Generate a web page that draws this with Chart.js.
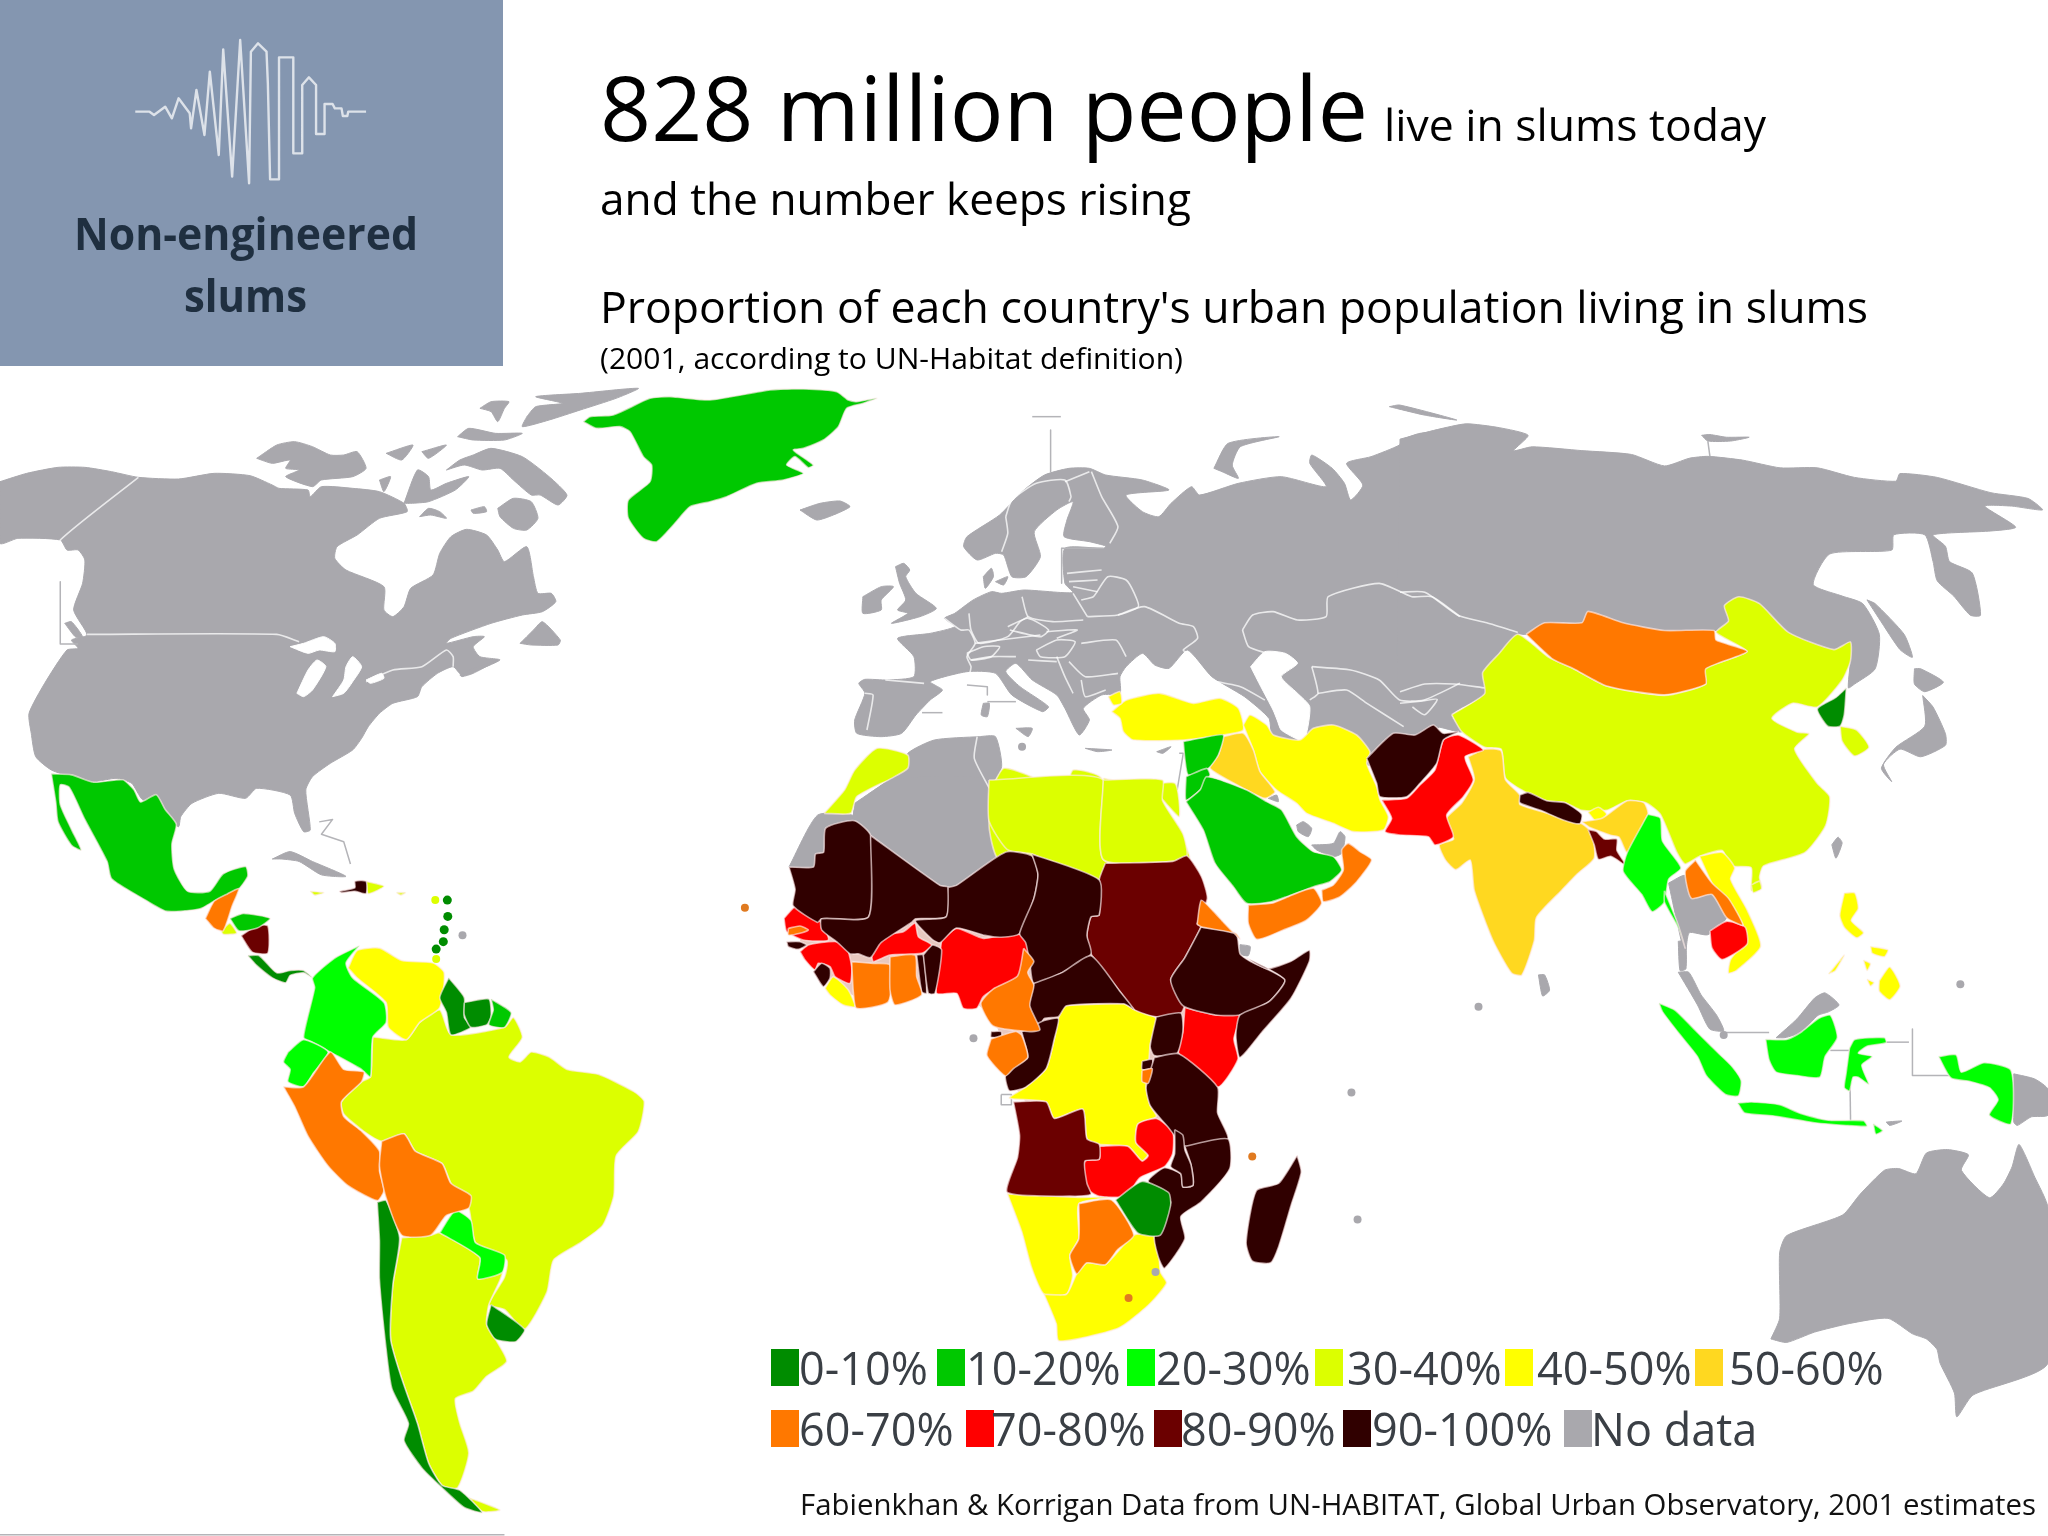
<!DOCTYPE html>
<html>
<head>
<meta charset="utf-8">
<title>Slums map</title>
<script src="https://cdn.jsdelivr.net/npm/chart.js@4"></script>
<style>
  html, body { margin: 0; padding: 0; background: #fff; }
  #page { position: relative; width: 2048px; height: 1536px; overflow: hidden; font-family: "Open Sans", sans-serif; }
  #panel { position: absolute; left: 0; top: 0; width: 503px; height: 366px; background: #8496b0; }
  #map { position: absolute; left: 0; top: 0; }
  .t { position: absolute; white-space: nowrap; transform-origin: 0 0; }
  .sw { position: absolute; width: 28px; height: 37px; }
</style>
</head>
<body>
<div id="page">
  <div id="panel"></div>
  <canvas id="map" width="2048" height="1536"></canvas>
</div>
<script>
const sheet = (x0, y0, sx, sy) => flat => {
  const pts = [];
  for (let i = 0; i < flat.length; i += 2) pts.push({ x: x0 + flat[i] / sx, y: y0 + flat[i + 1] / sy });
  return pts;
};
const na = sheet(0, 380, 2.24, 3);
const sa = sheet(0, 760, 2.24, 2.02);
const af = sheet(740, 780, 2.45, 2.703);
const eu = sheet(820, 400, 2.45, 3);
const as = sheet(1400, 420, 2.42, 2.613);
const oc = sheet(1500, 850, 2.861, 2.904);
const gl = sheet(570, 385, 3, 3);
const me = sheet(1100, 700, 3, 3);
const wa = sheet(780, 820, 3, 3);
const tr = sheet(850, 540, 3, 3);
const lg = sheet(0, 0, 2.24, 3);

const bandLabels = ['0-10%', '10-20%', '20-30%', '30-40%', '40-50%', '50-60%', '60-70%', '70-80%', '80-90%', '90-100%', 'No data'];
const bandColors = ['#008c00', '#00c800', '#00ff00', '#dcff00', '#ffff00', '#ffd820', '#ff7800', '#ff0000', '#6b0000', '#300000', '#a9a8ad'];

// no data land
const noData = [
  na([0,305,60,280,130,262,190,262,250,275,310,292,400,297,480,280,560,287,610,315,625,325,690,330,695,350,720,320,790,325,850,335,905,370,912,395,850,415,800,465,755,500,750,535,775,570,860,620,860,690,880,710,905,680,920,625,970,585,985,520,1010,470,1045,448,1090,465,1115,510,1130,545,1180,500,1195,590,1205,640,1235,640,1245,665,1215,695,1170,705,1100,730,1010,775,1000,790,1060,770,1085,770,1060,800,1075,830,1120,840,1035,885,1015,860,980,880,945,920,935,950,880,970,850,1000,825,1040,810,1075,790,1110,740,1150,700,1190,685,1230,695,1350,680,1355,660,1300,650,1245,575,1225,550,1255,490,1240,430,1270,405,1310,400,1340,375,1310,350,1250,320,1260,295,1210,260,1195,210,1205,160,1190,115,1170,80,1130,70,1060,65,1000,100,910,150,810,175,805,160,780,195,765,165,690,185,610,190,540,175,510,150,510,135,480,40,475,0,490]),
  na([575,235,620,195,660,185,700,200,740,225,770,225,800,215,820,265,790,290,720,300,700,320,640,290,670,270,640,265,650,240,610,250]),
  na([865,220,925,195,900,240]),
  na([945,215,1000,195,960,235]),
  na([850,300,875,290,860,335]),
  na([905,370,935,270,960,290,965,330,1000,310,1050,290,1020,330,960,365,920,370]),
  na([1000,270,1030,240,1060,225,1100,205,1170,230,1230,290,1270,345,1250,375,1210,345,1190,345,1150,300,1120,265,1080,270,1040,255]),
  na([1115,385,1150,355,1190,365,1205,415,1180,450,1150,445,1120,410]),
  na([940,410,960,385,985,395,1000,415,965,405]),
  na([1055,390,1085,380,1090,395,1060,400]),
  na([1180,110,1200,80,1260,70,1200,50,1300,40,1430,25,1380,55,1300,90,1230,120,1170,140]),
  na([1075,85,1100,65,1140,65,1130,85,1115,125,1100,95]),
  na([1025,170,1050,145,1110,160,1170,160,1130,180,1060,180]),
  na([1165,790,1195,750,1215,725,1255,780,1250,795,1190,795]),
  na([1030,885,1060,865,1115,840,1060,880,1035,890]),
  na([145,730,160,725,185,770,170,772]),
  gl([690,375,750,355,810,348,840,365,790,390,740,405]),
  sa([610,200,650,185,700,205,775,235,720,232,670,205,630,200]),
  af([120,235,190,95,275,95,275,125,210,130,205,195,185,200,180,235]),
  eu([85,1210,175,1135,215,1105,215,1060,280,1020,390,1010,430,1010,445,1100,415,1170,415,1300,450,1380,80,1380]),
  af([280,80,370,0,610,0,610,110,650,185,530,285,490,285,320,150,275,125]),
  af([1225,445,1250,450,1245,475,1225,470]),
  me([635,435,700,430,720,395,735,410,725,460,700,470,650,450]),
  me([590,375,610,365,635,385,625,410,595,395]),
  me([505,295,530,285,535,305]),
  eu([1568,90,1470,100,1425,120,1420,135,1350,170,1290,190,1330,255,1300,300,1285,250,1255,205,1205,165,1200,190,1240,260,1130,230,1025,250,930,285,910,260,860,310,830,350,790,335,750,285,855,270,790,240,700,225,660,205,610,205,550,225,495,275,440,345,360,410,352,440,385,480,430,460,450,465,470,530,505,530,540,470,525,395,580,330,620,305,605,360,598,410,660,425,700,438,695,445,600,445,600,550,620,578,500,570,445,580,420,575,375,600,330,640,305,655,330,680,270,700,190,715,230,770,230,830,165,840,110,838,95,850,110,880,85,960,90,1000,150,1010,200,1000,235,945,270,900,300,870,270,845,360,815,430,820,470,885,545,935,560,920,490,860,455,815,480,790,520,840,580,885,600,925,635,1005,660,960,645,925,690,885,735,880,735,830,750,800,790,760,820,795,855,805,900,750,960,830,1040,890,1100,955,1110,1010,1380,1100,1500,1000,1568,900]),
  as([0,50,90,25,160,10,240,20,310,40,275,80,320,70,440,80,560,90,640,120,700,100,745,95,830,105,920,125,1010,125,1100,150,1200,160,1210,140,1300,150,1430,190,1520,205,1555,235,1480,225,1415,225,1490,280,1430,290,1290,300,1320,330,1330,370,1385,400,1405,510,1380,510,1340,460,1300,420,1290,370,1270,300,1195,300,1190,340,1040,350,1000,430,1070,460,1120,480,1160,560,1150,650,1100,690,1085,700,1090,630,1090,580,1050,600,940,555,870,480,820,462,785,485,795,525,765,550,640,550,540,530,455,500,440,530,350,530,305,560,285,560,240,610,200,660,205,715,125,770,150,815,80,800,0,820]),
  as([1130,470,1150,480,1220,560,1240,620,1210,600,1160,520]),
  as([1245,650,1260,650,1315,685,1270,710,1245,690]),
  as([1265,720,1290,750,1320,820,1320,850,1260,880,1210,860,1170,900,1190,945,1165,910,1200,855,1270,800]),
  as([730,40,750,38,790,45,845,45,800,55,745,55]),
  eu([185,500,205,490,220,510,210,530,235,580,285,625,245,650,175,670,215,640,190,630,210,600,195,550]),
  eu([105,590,150,560,180,560,150,600,150,630,105,640]),
  eu([400,530,420,505,425,530,405,565]),
  eu([430,545,460,530,450,555]),
  eu([965,205,1000,130,1125,110,1030,140,1010,195,1025,235,985,215]),
  eu([1395,20,1420,15,1560,60,1480,45]),
  eu([400,910,415,910,410,950,395,945]),
  eu([480,985,520,985,510,1010]),
  eu([650,1045,715,1050,680,1055]),
  eu([825,1055,860,1040,840,1060]),
  as([650,1210,690,1190,710,1250,755,1240,790,1300,745,1345,700,1340,690,1395,670,1310]),
  oc([510,265,530,265,532,345,515,350]),
  oc([510,355,540,355,575,420,620,480,640,525,600,520,565,450]),
  as([1045,1110,1060,1090,1070,1105,1055,1145]),
  as([335,1450,350,1450,362,1490,345,1505]),
  oc([790,545,850,490,900,430,930,415,970,450,940,470,910,480,860,530,815,545]),
  oc([1470,650,1530,665,1568,695,1568,770,1520,775,1480,800,1470,790]),
  oc([1105,790,1150,787,1115,800]),
  oc([775,1420,800,1360,800,1170,820,1120,980,1060,1030,1000,1100,930,1140,925,1190,940,1220,880,1280,870,1340,885,1320,930,1400,1010,1440,970,1465,920,1485,855,1530,950,1568,1040,1568,1490,1353,1583,1307,1646,1300,1577,1259,1490,1250,1450,1220,1420,1180,1405,1110,1360,1000,1375,900,1400,820,1430])
];

// lakes and inland seas cut out of the grey
const water = [
  na([650,800,680,790,725,770,750,790,750,815,715,810,690,820]),
  na([665,940,690,870,710,840,730,860,700,930,680,950]),
  na([745,950,770,900,775,860,790,830,810,860,790,905,770,940]),
  na([820,900,855,880,860,895,830,910]),
  eu([1055,800,1090,755,1140,760,1170,790,1130,830,1170,880,1200,920,1190,1010,1175,1020,1130,990,1120,960,1110,930,1080,860])
];

// pale ground under africa so slivers between traced countries read as borders
const africaGround = af([150,300,330,170,500,300,880,300,1100,300,1100,600,1150,800,1050,950,850,1100,700,1100,700,870,660,810,640,700,620,640,560,590,480,550,300,590,220,540,150,440]);

const band0 = [
  sa([1005,440,1040,480,1040,520,1055,540,1010,555,1000,510,985,480]),
  sa([1040,490,1095,483,1100,520,1090,535,1055,540,1040,515]),
  sa([1100,1100,1175,1150,1155,1175,1110,1170,1090,1140]),
  sa([845,893,865,890,895,965,880,1060,875,1170,900,1250,935,1340,960,1420,990,1465,1030,1475,1080,1520,1040,1510,990,1470,945,1430,905,1375,915,1340,878,1270,865,1190,850,1050,850,970]),
  sa([555,395,580,395,620,430,650,425,680,425,700,440,680,430,650,435,640,450,610,440,575,415]),
  af([920,1135,985,1085,1050,1115,1055,1150,1030,1230,975,1225]),
  as([1080,700,1075,770,1065,800,1035,800,1010,755,1055,725])
];
const band1 = [
  gl([40,110,60,95,130,90,240,40,300,35,420,45,600,15,700,12,800,20,835,45,860,50,920,40,880,55,830,70,805,125,760,165,700,190,670,195,730,240,715,248,675,215,650,240,700,265,640,285,560,295,470,335,420,350,360,365,310,420,260,470,220,460,175,400,175,345,240,290,245,240,220,215,180,140,150,125,80,130]),
  sa([115,28,160,30,210,45,275,40,300,60,315,85,350,70,370,100,395,130,385,170,390,220,420,265,470,265,500,230,550,215,555,235,530,265,480,285,450,300,410,305,370,305,320,280,250,240,240,205,190,120,155,55,135,50,135,90,160,140,182,182,160,172,130,125,125,85]),
  sa([515,320,545,310,605,320,575,340,535,345]),
  sa([1100,483,1145,510,1130,540,1095,535,1105,505]),
  me([250,125,300,115,370,105,355,165,325,205,265,225,255,180]),
  me([258,230,320,205,330,225,300,270,258,300]),
  me([258,305,300,270,320,230,440,270,500,305,545,330,590,410,640,455,700,470,725,510,690,545,640,560,560,590,515,605,440,610,400,560,345,490,310,390])
];
const band2 = [
  sa([805,375,775,410,790,440,860,490,865,530,835,560,830,640,810,625,740,590,700,570,680,560,705,460,700,440,750,400]),
  sa([645,590,680,565,735,590,700,635,680,660,645,650,650,625,635,610]),
  sa([985,955,1020,910,1055,930,1065,975,1130,1000,1125,1035,1070,1048,1075,1005]),
  as([600,1030,630,1040,635,1100,680,1170,650,1200,640,1260,610,1285,585,1240,540,1180,550,1130]),
  as([640,1230,670,1310,690,1380,675,1330,640,1260]),
  oc([455,445,500,465,565,530,625,590,665,630,690,670,682,714,645,710,590,655,565,600,510,530,465,470]),
  oc([680,735,720,732,800,740,860,765,940,785,1040,786,1050,802,990,800,900,792,780,772,700,764]),
  oc([1068,795,1095,815,1075,825]),
  oc([760,550,820,550,860,530,910,490,945,480,965,545,930,600,915,660,850,655,790,645,770,610]),
  oc([1000,575,1015,550,1100,545,1105,560,1050,570,1025,590,1065,600,1035,625,1055,680,1025,660,1010,660,1000,700,985,690,990,650]),
  oc([1255,600,1305,595,1320,645,1385,618,1462,640,1462,795,1400,770,1425,725,1400,690,1345,672,1290,662])
];
const band3 = [
  eu([10,1240,60,1170,85,1110,140,1045,215,1065,215,1105,175,1135,90,1190,75,1240]),
  eu([415,1180,450,1105,520,1130,600,1165,620,1110,690,1135,695,1380,440,1380,415,1290]),
  af([610,0,890,0,890,270,715,200,655,188,610,110]),
  eu([695,1135,800,1155,870,1150,880,1250,835,1195,905,1380,695,1380]),
  af([890,0,1035,0,1035,55,1085,145,1095,205,1060,220,890,215]),
  sa([840,560,910,565,940,530,985,505,1010,555,1130,540,1150,520,1170,560,1140,600,1165,610,1190,590,1230,600,1270,625,1340,635,1420,670,1443,690,1430,750,1380,800,1375,880,1350,940,1300,975,1240,1010,1225,1075,1175,1150,1130,1110,1095,1100,1130,1045,1135,1010,1065,975,1050,905,1010,855,990,815,930,790,905,755,855,770,815,750,770,715,765,690,810,650,830,640,835,560]),
  sa([900,965,965,960,985,955,1075,1005,1070,1048,1125,1035,1095,1100,1090,1140,1110,1170,1135,1215,1090,1245,1060,1275,1020,1290,1030,1340,1050,1400,1025,1470,990,1465,960,1420,935,1340,900,1250,875,1170,880,1060]),
  sa([1050,1490,1120,1515,1080,1518]),
  sa([820,245,860,255,825,270]),
  sa([695,265,725,268,705,273]),
  sa([888,268,908,268,898,273]),
  sa([495,345,515,330,530,350,500,352]),
  as([125,770,205,715,200,660,240,610,285,560,360,620,420,650,500,695,640,720,740,690,735,650,840,605,765,555,795,525,785,485,820,462,870,480,940,555,1050,600,1090,580,1090,630,1070,680,1010,750,950,740,900,780,960,815,990,820,955,860,1010,950,1040,985,1030,1060,980,1130,880,1165,870,1195,875,1220,850,1230,850,1170,800,1165,780,1125,725,1140,690,1160,670,1130,630,1030,595,1000,550,995,500,1020,440,1020,400,1000,355,995,300,970,255,935,245,860,205,855,150,815]),
  as([1065,800,1105,810,1135,855,1100,878,1070,840]),
  as([850,1215,870,1205,875,1225,855,1235])
];
const band4 = [
  sa([780,420,800,385,850,380,900,405,970,410,995,430,985,500,940,530,910,565,870,540,865,490,800,440]),
  tr([785,515,830,480,930,460,1030,490,1110,475,1165,505,1180,570,1120,585,1000,600,850,600,820,575,810,535]),
  tr([775,470,810,455,815,490,790,495]),
  me([430,75,450,45,500,75,520,105,600,120,640,85,700,75,770,105,810,155,800,190,830,260,840,300,865,350,850,390,760,395,700,370,620,340,590,310,530,270,480,215,460,150]),
  af([790,610,940,605,965,620,1020,645,1005,715,1000,790,995,830,1005,880,1020,910,975,930,970,980,1000,1010,985,1030,950,990,880,985,850,970,840,890,770,915,750,870,660,860,700,830,750,780,770,700,780,645]),
  af([655,1118,820,1128,905,1128,830,1145,830,1240,808,1285,815,1340,800,1390,745,1390,715,1320,690,1220]),
  af([745,1390,800,1390,825,1335,850,1305,895,1310,965,1230,1020,1235,1030,1330,1045,1360,1000,1420,930,1480,830,1510,780,1515,775,1470]),
  wa([135,505,160,470,205,510,225,560,190,555,150,525]),
  as([725,1140,780,1130,810,1170,800,1200,840,1280,873,1375,815,1438,795,1445,800,1410,835,1360,830,1320,790,1255,755,1210]),
  as([455,1025,480,1012,500,1030,480,1055]),
  oc([985,125,1015,125,1025,170,1005,205,1040,240,1020,255,985,225,972,190]),
  oc([1085,380,1115,340,1145,395,1115,435,1085,410]),
  oc([1060,280,1110,290,1100,310,1065,300]),
  oc([940,360,985,305,960,350]),
  oc([1040,320,1060,330,1050,350]),
  oc([1050,375,1070,385,1060,395])
];
const band5 = [
  me([370,110,430,100,460,150,480,215,525,275,495,295,440,270,330,205,355,165]),
  as([165,880,205,860,245,865,255,940,290,980,290,1005,365,1030,440,1055,465,1080,470,1145,430,1185,390,1230,330,1300,325,1360,295,1450,270,1445,225,1360,180,1230,170,1150,135,1175,110,1150,95,1110,130,1095,105,1050,150,1000,180,940]),
  as([440,1050,490,1040,550,995,590,1000,600,1030,550,1130,530,1090,510,1085,460,1065])
];
const band6 = [
  sa([460,320,480,285,510,270,535,260,520,295,500,345,480,340]),
  sa([635,660,680,660,740,590,770,625,815,630,810,650,765,690,770,720,810,750,850,790,850,830,860,870,845,890,780,860,735,820,690,760,660,700]),
  sa([855,770,905,755,930,790,990,815,1010,855,1055,880,1050,905,1000,920,965,960,900,960,865,885,850,820]),
  as([305,560,350,530,440,530,455,500,540,530,640,550,760,550,765,575,840,605,740,650,740,690,640,718,500,695,420,650,370,625]),
  as([715,1150,755,1210,795,1250,830,1320,790,1300,755,1240,705,1250,690,1180]),
  me([445,615,515,610,565,590,640,565,665,610,620,660,550,690,470,718,445,670]),
  me([665,570,700,555,730,510,725,450,745,430,780,455,815,480,770,545,720,590,670,605]),
  af([1120,390,1130,325,1160,355,1185,385,1225,430,1215,415,1130,397]),
  wa([215,425,280,430,330,435,325,545,230,565,220,515]),
  wa([330,410,405,405,410,470,425,525,345,555,330,510]),
  wa([25,325,60,318,85,330,60,340,25,345]),
  af([695,455,720,490,705,520,720,555,710,610,735,675,705,680,620,665,590,605,620,565,680,530]),
  af([615,700,675,680,690,690,705,750,670,780,650,800,605,745]),
  af([985,785,1010,780,1000,820,985,815]),
  af([830,1145,910,1135,965,1230,925,1270,895,1310,850,1305,825,1335,808,1285,830,1240])
];
const band7 = [
  me([845,300,920,295,960,255,1005,210,1030,120,1075,105,1150,150,1095,170,1120,240,1090,290,1040,345,1060,410,1005,435,985,410,900,405,855,395,875,355]),
  as([750,1335,790,1310,835,1325,840,1370,780,1410,755,1380]),
  wa([12,295,45,260,80,265,125,310,145,360,70,360,20,335]),
  wa([60,395,85,375,145,365,195,370,215,440,210,490,165,470,150,440,115,430,105,450,75,420]),
  wa([275,410,300,350,370,335,405,310,415,350,455,375,425,400,330,405,280,425]),
  wa([485,360,530,325,610,355,670,345,735,345,755,375,710,480,650,505,610,530,590,565,550,565,530,520,470,520,475,440]),
  af([1090,615,1165,635,1225,630,1210,700,1220,755,1170,830,1075,740,1085,680]),
  af([880,990,950,990,985,1030,1000,1015,970,980,975,930,1020,915,1060,950,1060,1010,1040,1045,980,1075,945,1125,880,1125,855,1110,845,1085,845,1030,880,1025])
];
const band8 = [
  sa([540,355,575,335,600,335,600,390,565,388]),
  af([895,225,1060,220,1095,205,1130,260,1145,320,1120,390,1130,395,1090,480,1055,540,1090,600,1080,630,1020,640,965,620,930,570,860,470,850,420,860,370,880,365,880,270]),
  af([670,870,750,870,770,915,840,890,850,970,880,985,880,1025,845,1030,850,1090,860,1120,820,1125,655,1115,680,1020,685,960]),
  as([455,1070,475,1075,495,1095,525,1095,525,1125,548,1165,510,1140,480,1148,470,1110])
];
const band9 = [
  sa([760,265,795,258,795,245,820,245,820,270,795,265,765,268]),
  me([800,175,880,100,945,105,1000,75,1030,100,1075,95,1030,120,1010,190,960,250,920,290,840,290,830,250]),
  as([290,980,310,973,355,995,400,1000,440,1030,435,1055,395,1045,340,1020,290,1000]),
  af([120,235,180,235,185,200,205,195,210,130,280,110,320,150,315,370,200,375,190,385,130,340,135,295]),
  af([320,150,490,285,510,290,505,370,430,375,420,385,345,440,320,480,290,470,270,470,240,440,200,405,200,375,315,370]),
  af([510,290,530,285,650,195,715,205,730,255,720,320,685,415,640,425,600,420,530,400,490,440,470,430,430,380,505,370]),
  af([715,200,880,270,880,365,860,370,850,420,860,470,790,520,720,550,710,495,700,440,685,415,720,320,730,255]),
  af([1130,397,1215,415,1225,470,1250,490,1335,540,1295,600,1225,635,1165,635,1085,610,1055,540,1090,480]),
  af([1240,480,1290,510,1350,490,1395,460,1395,490,1350,590,1280,680,1225,750,1215,690,1225,635,1295,600,1335,540]),
  af([1020,640,1080,630,1085,680,1070,740,1015,745,1005,720]),
  af([985,760,1010,755,1010,780,985,782]),
  af([1015,750,1075,740,1170,830,1170,900,1195,970,1090,990,1050,940,1005,880,995,830]),
  af([720,550,790,520,860,475,930,570,965,620,940,605,800,610,780,640,745,645,730,675,705,625]),
  af([615,680,640,680,640,695,615,695]),
  af([690,680,745,650,780,645,770,700,750,780,700,830,660,840,650,800,670,775,705,750,695,700]),
  af([1090,990,1195,970,1200,1050,1130,1140,1080,1180,1090,1240,1040,1320,1025,1290,1015,1230,1055,1140,1000,1085,1040,1048,1080,1065,1085,1100,1110,1095,1105,1040]),
  af([1065,945,1085,960,1090,1000,1105,1040,1110,1095,1085,1100,1080,1065,1055,1045,1065,1010]),
  af([1365,1015,1375,1060,1350,1150,1320,1260,1300,1305,1255,1300,1240,1250,1265,1110,1320,1090]),
  wa([20,365,60,365,80,375,55,388,25,380]),
  wa([100,455,125,430,150,445,150,475,130,500]),
  wa([410,405,430,405,440,520,425,515]),
  wa([430,405,458,375,485,390,465,520,445,520])
];

// the little round islands
const islandsGrey = [sa([1036,354]), af([572,698,1498,845,1513,1188,1018,1330]), as([190,1533]), oc([1317,390,640,537]), eu([495,1040])].flat();
const islandsDark = sa([1002,283,1003,316,995,343,993,367,977,382]);
const islandsLime = sa([975,283,977,402]);
const islandsOrange = af([12,345,1255,1018,952,1400]);

// white frontiers through the grey
const frontiers = [
  na([310,292,135,480,145,510]), na([195,763,620,763,670,785]), na([820,905,880,870,945,860,1000,810,1015,830,1015,860]),
  eu([455,350,470,300,530,250,600,240,615,290,610,305]), eu([665,215,690,290,730,380,710,430]), eu([600,245,660,215]), eu([455,350,460,400,445,455]),
  eu([110,880,130,885,115,990]), eu([160,840,255,850]),
  eu([495,590,510,650,570,665,645,660]), eu([620,580,655,650]),
  eu([365,640,370,690,390,730,460,710,490,665,510,650]), eu([460,680,510,655,560,690,540,710,465,690]), eu([555,695,630,690,580,715]),
  eu([530,750,580,720,625,725,600,770,540,770,530,750]), eu([380,730,440,720,540,705]), eu([360,760,400,740,440,740,420,770,370,780,360,760]), eu([370,780,420,770,480,770]),
  eu([305,655,345,690,365,690,380,730,360,770,370,800,365,830]),
  eu([655,650,730,645,780,620,770,580,750,540,705,530,670,590,640,600]),
  eu([730,645,795,620,880,670,915,680,925,715,890,750,900,760]),
  eu([640,730,725,720,750,770]), eu([610,785,650,830,730,820]), eu([640,840,650,890,700,870]), eu([580,770,600,830,620,880]), eu([510,780,580,785]),
  eu([605,520,690,510]), eu([610,545,680,540]), eu([620,560,680,575]),
  eu([1035,690,1060,645,1110,635,1170,660,1240,650,1245,590,1370,550,1450,590,1500,590,1568,650]), eu([1035,690,1050,740,1095,760]),
  eu([1205,800,1300,810,1370,840,1420,900,1480,900,1568,850]), eu([1205,800,1220,880,1200,900]), eu([1220,880,1290,870,1340,910,1430,980]),
  eu([950,840,1030,860,1090,900]), eu([385,1010,378,1075,415,1165]),
  as([0,450,60,450,140,510,210,530,285,555]), as([0,710,60,690,130,690,205,700]), as([0,740,50,735,90,730,60,770,30,750])
];
// thin grey lines around some islands
const marks = [
  na([135,605,135,792,175,792]), sa([715,125,745,120,720,150,770,165,785,210]), sa([0,1565,1130,1565]),
  eu([520,50,590,50]), eu([565,90,565,215]), eu([250,938,300,938]), eu([360,855,410,860,410,885]), eu([410,905,480,905]),
  eu([592,445,695,445]), eu([592,445,592,550]), as([745,55,750,95]), eu([880,1060,890,1060,875,1170]),
  af([640,850,665,850,665,878,640,878,640,850]),
  oc([640,530,770,530]), oc([945,582,1000,582]), oc([1000,580,1003,790]), oc([1105,558,1170,558]), oc([1180,520,1180,655,1290,655])
];

const skyline = lg([303,335,335,335,345,345,370,320,385,355,400,295,425,340,428,385,440,270,458,405,470,215,490,465,500,148,520,530,538,120,558,550,562,155,578,130,597,155,600,250,605,538,625,538,625,172,657,172,657,460,677,460,677,255,692,232,708,255,708,402,727,402,727,312,745,312,750,325,765,325,768,348,778,348,780,335,820,335]);

const shape = (pts, color, edge, w) => ({
  data: pts.concat(pts[0]), showLine: true, fill: 'shape', tension: 0.2, pointRadius: 0,
  backgroundColor: color, borderColor: edge, borderWidth: w, borderJoinStyle: 'round'
});
const stroke = (pts, color, w, tension) => ({
  data: pts, showLine: true, fill: false, tension: tension, pointRadius: 0,
  borderColor: color, borderWidth: w, borderJoinStyle: 'round'
});
const dots = (pts, color, r) => ({
  data: pts, showLine: false, pointRadius: r, pointBorderWidth: 0, pointBackgroundColor: color
});

const paleEdge = 'rgba(255,235,235,0.65)';
const datasets = [];
noData.forEach(p => datasets.push(shape(p, bandColors[10], bandColors[10], 1)));
water.forEach(p => datasets.push(shape(p, '#ffffff', '#ffffff', 1)));
frontiers.forEach(p => datasets.push(stroke(p, 'rgba(255,255,255,0.75)', 1.6, 0.2)));
marks.forEach(p => datasets.push(stroke(p, '#b4b4b8', 1.5, 0)));
datasets.push(shape(africaGround, '#e8c8c0', '#e8c8c0', 1));
[[band3, 3], [band4, 4], [band5, 5], [band7, 7], [band8, 8], [band9, 9], [band0, 0], [band1, 1], [band2, 2], [band6, 6]].forEach(([list, i]) => {
  list.forEach(p => datasets.push(shape(p, bandColors[i], paleEdge, 1.6)));
});
datasets.push(dots(islandsGrey, bandColors[10], 4));
datasets.push(dots(islandsDark, bandColors[0], 4.5));
datasets.push(dots(islandsLime, bandColors[3], 4));
datasets.push(dots(islandsOrange, '#e07a20', 4));
datasets.push(stroke(skyline, 'rgba(255,255,255,0.72)', 2.4, 0));

new Chart(document.getElementById('map'), {
  type: 'scatter',
  // chart.js paints the first dataset last
  data: { datasets: datasets.reverse() },
  options: {
    responsive: false,
    animation: false,
    events: [],
    devicePixelRatio: 1,
    layout: { padding: 0, autoPadding: false },
    plugins: { legend: { display: false }, tooltip: { enabled: false } },
    scales: {
      x: { type: 'linear', min: 0, max: 2048, display: false },
      y: { type: 'linear', min: 0, max: 1536, reverse: true, display: false }
    }
  }
});

// text: string, x, baseline, size, fitted width (0 keeps natural), colour, weight
const texts = [
  ['828 million people', 600, 141, 90, 768, '#000', 400],
  ['live in slums today', 1384, 141, 44, 382, '#000', 400],
  ['and the number keeps rising', 600, 215, 44, 591, '#000', 400],
  ["Proportion of each country's urban population living in slums", 600, 323, 44, 1268, '#000', 400],
  ['(2001, according to UN-Habitat definition)', 600, 369, 30, 583, '#000', 400],
  ['Non-engineered', 74, 250, 44, 344, '#1f2f40', 700],
  ['slums', 184, 312, 44, 123, '#1f2f40', 700],
  ['Fabienkhan & Korrigan Data from UN-HABITAT, Global Urban Observatory, 2001 estimates', 800, 1515, 30, 1236, '#111', 400]
];
const legendX = [771, 937, 1127, 1315, 1505, 1695, 771, 966, 1154, 1343, 1564];
const legendTextX = [799, 966, 1156, 1347, 1537, 1729, 799, 991, 1181, 1372, 1591];
bandLabels.forEach((label, i) => {
  const row = i < 6 ? 0 : 1;
  const sw = document.createElement('div');
  sw.className = 'sw';
  sw.style.left = legendX[i] + 'px';
  sw.style.top = (row ? 1410 : 1349) + 'px';
  sw.style.background = bandColors[i];
  document.getElementById('page').appendChild(sw);
  texts.push([label, legendTextX[i], row ? 1446 : 1385, 45, 0, '#3a3f45', 400]);
});
texts.forEach(([s, x, base, size, w, color, weight]) => {
  const el = document.createElement('div');
  el.className = 't';
  el.textContent = s;
  // open sans ascent is 1.069 em
  el.style.cssText = `left:${x}px;top:${base - size * 1.069}px;font-size:${size}px;color:${color};font-weight:${weight}`;
  document.getElementById('page').appendChild(el);
  if (w) el.style.transform = `scaleX(${w / el.getBoundingClientRect().width})`;
});
</script>
</body>
</html>
